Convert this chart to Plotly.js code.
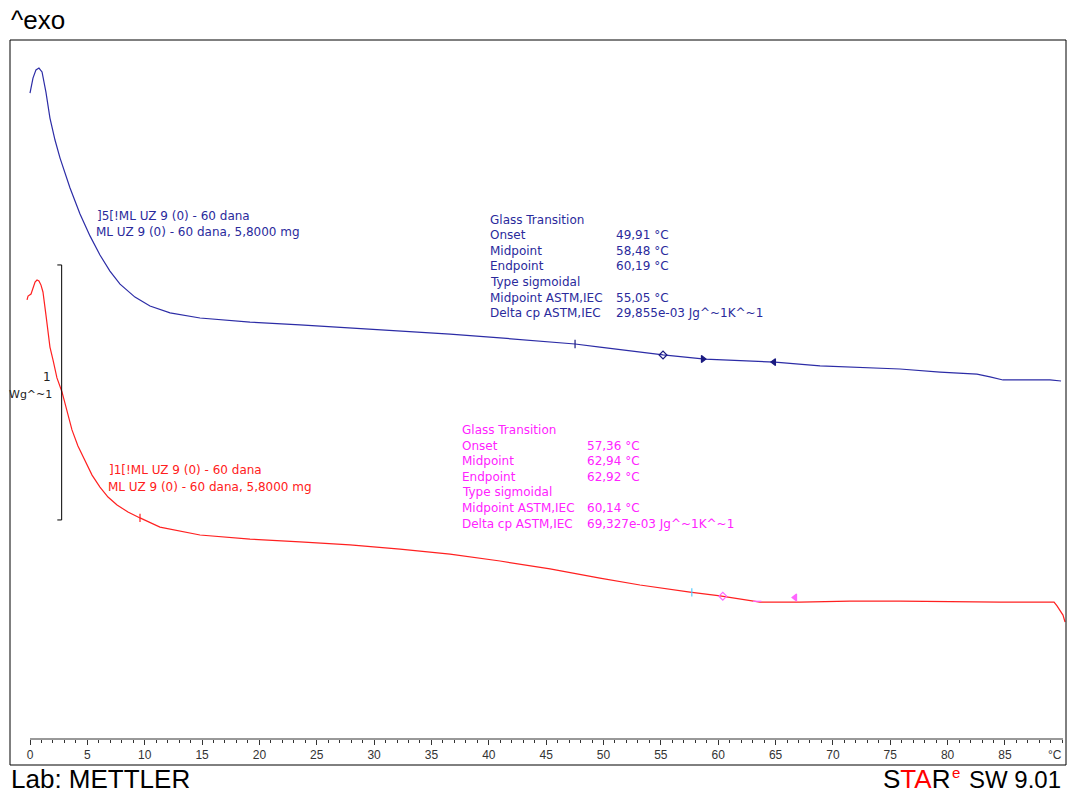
<!DOCTYPE html>
<html>
<head>
<meta charset="utf-8">
<script src="https://cdn.plot.ly/plotly-3.0.1.min.js"></script>
<style>html,body{margin:0;padding:0;background:#fff;}#chart{width:1067px;height:794px;}</style>
</head>
<body>
<div id="chart"></div>
<script>
// ---- data (temperature in °C, heat flow in W/g, arbitrary offset) ----
const blueT  = [0.00,0.26,0.52,0.78,1.05,1.39,1.74,2.18,2.62,3.49,4.36,5.23,6.10,6.97,7.85,9.15,10.46,12.21,14.82,19.18,23.54,27.90,32.26,36.62,40.98,45.34,47.52,49.69,55.19,58.85,64.95,68.88,75.85,79.34,82.56,83.70,84.83,85.70,88.93,89.89];
const blueHF = [2.533,2.592,2.624,2.631,2.616,2.537,2.435,2.349,2.278,2.161,2.059,1.973,1.898,1.835,1.784,1.733,1.698,1.671,1.651,1.635,1.624,1.612,1.600,1.588,1.573,1.557,1.549,1.537,1.506,1.490,1.478,1.463,1.451,1.439,1.431,1.420,1.408,1.408,1.408,1.404];

const redT  = [-0.26,-0.17,0.09,0.26,0.44,0.61,0.78,0.96,1.13,1.39,1.74,2.01,2.35,2.79,3.23,3.66,4.18,4.80,5.41,6.10,6.80,7.59,8.54,9.59,11.33,14.82,19.18,23.54,27.90,32.26,36.62,40.98,45.34,49.69,53.18,57.54,60.16,63.64,67.13,71.49,75.85,84.57,89.28,89.54,89.80,90.06,90.24];
const redHF = [1.722,1.737,1.745,1.773,1.792,1.800,1.796,1.780,1.753,1.663,1.537,1.486,1.416,1.361,1.282,1.212,1.149,1.094,1.035,0.988,0.949,0.918,0.890,0.867,0.831,0.800,0.784,0.773,0.761,0.745,0.725,0.698,0.667,0.631,0.604,0.576,0.561,0.537,0.537,0.541,0.541,0.537,0.537,0.522,0.502,0.486,0.459];

const blueMarkT  = [47.52, 55.19, 58.67, 64.86];
const blueMarkHF = [1.549, 1.506, 1.490, 1.478];
const blueMarkSym = ['line-ns-open','diamond-open','triangle-right','triangle-left'];

const redMarkT  = [9.59, 57.70, 60.40, 63.40, 66.70];
const redMarkHF = [0.867, 0.575, 0.560, 0.540, 0.555];
const redMarkSym = ['line-ns-open','line-ns-open','diamond-open','line-ew-open','triangle-left'];
const redMarkCol = ['#ff2020','#55ccff','#ff66ff','#ff66ff','#ff66ff'];

const majorTicks = [0,5,10,15,20,25,30,35,40,45,50,55,60,65,70,75,80,85];
const majorLabels = ['0','5','10','15','20','25','30','35','40','45','50','55','60','65','70','75','80','85'];
const minorTicks = Array.from({length:91}, (_, i) => i);
const unitLabel = '°C';
const axisEndT = 90.06;

const blueName = [']5[!ML UZ 9 (0) - 60 dana', 'ML UZ 9 (0) - 60 dana, 5,8000 mg'];
const redName  = [']1[!ML UZ 9 (0) - 60 dana', 'ML UZ 9 (0) - 60 dana, 5,8000 mg'];

const gtLabels = ['Glass Transition','Onset','Midpoint','Endpoint','Type sigmoidal','Midpoint ASTM,IEC','Delta cp ASTM,IEC'];
const blueGtValues = ['','49,91 °C','58,48 °C','60,19 °C','','55,05 °C','29,855e-03 Jg^~1K^~1'];
const redGtValues  = ['','57,36 °C','62,94 °C','62,92 °C','','60,14 °C','69,327e-03 Jg^~1K^~1'];

// ---- layout helpers ----
const W = 1067, H = 794;
const M = {l:10, r:1, t:40, b:29};
const pw = W - M.l - M.r, ph = H - M.t - M.b;
const px = x => (x - M.l) / pw;
const py = y => (H - M.b - y) / ph;

const BLUE = '#2c2ca6', BLUE_TXT = '#2a2a9c', RED = '#ff2020', MAG = '#ff22ff';
const FONT = 'DejaVu Sans';

const traces = [
  {x: blueT, y: blueHF, mode:'lines', line:{color:BLUE, width:1.2}, hoverinfo:'skip'},
  {x: redT,  y: redHF,  mode:'lines', line:{color:RED,  width:1.2}, hoverinfo:'skip'},
  {x: blueMarkT, y: blueMarkHF, mode:'markers', marker:{symbol:blueMarkSym, size:6, color:'#1a1a80', line:{color:'#1a1a80', width:1.2}}, hoverinfo:'skip'},
  {x: redMarkT, y: redMarkHF, mode:'markers', marker:{symbol:redMarkSym, size:6, color:redMarkCol, line:{color:redMarkCol, width:1.2}}, hoverinfo:'skip'}
];

const ann = [];
function txt(text, x, y, opts){
  ann.push(Object.assign({text:text, x:px(x), y:py(y), xref:'paper', yref:'paper',
    xanchor:'left', yanchor:'middle', showarrow:false,
    font:{family:FONT, size:12, color:'#000'}}, opts||{}));
}
const BIG = {family:'Liberation Sans', size:26, color:'#000'};
txt('^exo', 9, 20, {font:BIG});
txt('Lab: METTLER', 9, 779, {font:BIG});
txt('S<span style="color:#ff0000">TA</span>R', 952, 779, {xanchor:'right', font:BIG});
txt('e', 950, 772, {font:{family:'Liberation Sans', size:15, color:'#ff0000'}});
txt('SW 9.01', 1063, 779, {xanchor:'right', font:{family:'Liberation Sans', size:24, color:'#000'}});
txt(unitLabel, 1055, 755, {xanchor:'center', font:{family:'Liberation Sans', size:12, color:'#333'}});
txt('1', 53, 377, {xanchor:'right', font:{family:FONT, size:12, color:'#222'}});
txt('Wg^~1', 54, 394, {xanchor:'right', font:{family:FONT, size:11, color:'#222'}});

txt(blueName[0], 95, 216, {font:{family:FONT, size:12, color:BLUE_TXT}});
txt(blueName[1], 94, 232.5, {font:{family:FONT, size:12, color:BLUE_TXT}});
txt(redName[0], 107, 470, {font:{family:FONT, size:12, color:RED}});
txt(redName[1], 106, 487, {font:{family:FONT, size:12, color:RED}});

gtLabels.forEach((l,i) => {
  txt(l, 488, 219.5 + i*15.6, {font:{family:FONT, size:12, color:BLUE_TXT}});
  if (blueGtValues[i]) txt(blueGtValues[i], 614, 219.5 + i*15.6, {font:{family:FONT, size:12, color:BLUE_TXT}});
  txt(l, 460, 430 + i*15.6, {font:{family:FONT, size:12, color:MAG}});
  if (redGtValues[i]) txt(redGtValues[i], 585, 430 + i*15.6, {font:{family:FONT, size:12, color:MAG}});
});

const xLo = (M.l - 30) / 11.47, xHi = (W - M.r - 30) / 11.47;
const yLo = (739 - (H - M.b)) / 255, yHi = (739 - M.t) / 255;

const shapes = [
  {type:'rect', xref:'paper', yref:'paper', x0:0, y0:0, x1:1, y1:1, line:{color:'#000', width:1}},
  {type:'line', xref:'x', yref:'paper', x0:0, x1:axisEndT, y0:py(739), y1:py(739), line:{color:'#333', width:1}},
  {type:'path', xref:'x', yref:'y', path:'M 2.38 1.859 L 2.76 1.859 L 2.76 0.859 L 2.38 0.859', line:{color:'#000', width:1}}
];

const layout = {
  width:W, height:H, margin:M, paper_bgcolor:'#fff', plot_bgcolor:'#fff', showlegend:false,
  xaxis:{range:[xLo, xHi], anchor:'free', position:py(739), showgrid:false, zeroline:false, showline:false,
    tickmode:'array', tickvals:majorTicks, ticktext:majorLabels, ticks:'outside', ticklen:5, tickwidth:1, tickcolor:'#333',
    tickfont:{family:'Liberation Sans', size:12, color:'#333'},
    minor:{tickmode:'array', tickvals:minorTicks, ticks:'outside', ticklen:3, tickwidth:1, tickcolor:'#333', showgrid:false},
    fixedrange:true},
  yaxis:{range:[yLo, yHi], visible:false, fixedrange:true},
  annotations:ann, shapes:shapes
};

Plotly.newPlot('chart', traces, layout, {displayModeBar:false, staticPlot:true});
</script>
</body>
</html>
